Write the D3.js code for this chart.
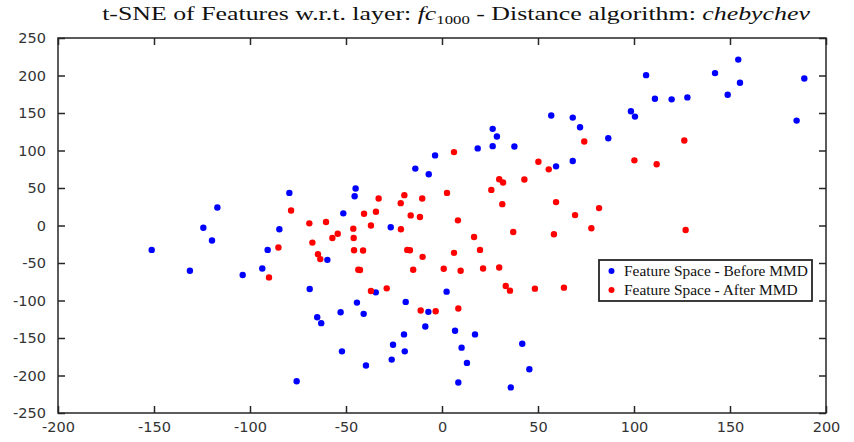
<!DOCTYPE html>
<html>
<head>
<meta charset="utf-8">
<script src="https://cdn.jsdelivr.net/npm/d3@7"></script>
<style>
  html, body { margin: 0; padding: 0; background: #fff; }
  svg { display: block; }
</style>
</head>
<body>
<script>
// ---- data ----
const beforeX = [-151.2,-131.3,-124.3,-119.8,-117,-103.8,-93.6,-90.8,-84.7,-79.5,-75.7,-68.9,-65,-62.9,-59.7,-52.8,-52.1,-51.4,-45,-45.5,-44.3,-40.8,-39.6,-34.5,-26.7,-26.2,-25.5,-19.8,-19.4,-18.9,-13.9,-8.7,-7.1,-6.9,-3.6,2.4,6.8,8.5,10.2,13,17.2,18.6,26.4,26.4,28.6,35.8,37.7,41.8,45.5,56.9,59.4,68.1,68.1,71.9,86.6,98.4,100.5,106.3,110.9,119.6,127.8,142.2,148.8,154.3,155.2,184.7,188.7];
const beforeY = [-32.5,-60.3,-2.9,-20,24,-66,-57.3,-32.5,-5,43.5,-207.6,-84.6,-122.3,-130.2,-45.8,-115.6,-167.8,16.2,49.3,39.1,-102.8,-117.8,-186.7,-89.1,-2.4,-178.8,-159,-145.2,-167.8,-101.9,75.9,-134.6,-115.1,68.3,93.5,-88.2,-140.3,-209.3,-162.9,-183.2,-145.2,102.8,128.9,105.8,118.7,-215.9,105.4,-157.6,-191.6,146.6,78.9,143.9,86,131,116.4,152.3,145.2,200.5,169.1,168.2,170.8,203.2,174.4,221.2,190.3,139.9,196];
const afterX = [-90.1,-85.2,-78.6,-69.1,-67.5,-64.6,-63.4,-60.4,-57.1,-54.3,-46.2,-46,-45.8,-43.6,-42.7,-41.1,-40.6,-37,-37,-34.4,-33,-28.8,-21.5,-21.4,-19.6,-18.1,-16.7,-16.3,-15,-11.5,-11.1,-10.3,-10.1,-3.3,0.9,2.6,6.25,6.25,8.3,8.5,9.7,16.7,19.8,21.4,25.7,29.8,29.8,31.4,31.8,33.2,35.4,37.1,42.9,48.4,50.2,55.6,58.3,59.4,63.5,69.3,74.1,77.8,81.8,100.2,111.8,126.2,126.9];
const afterY = [-69.2,-29.4,20.1,2.9,-22.8,-38.2,-44.8,4.6,-16.6,-10.9,-4.2,-16.6,-32.9,-59,-59.4,-33.4,15.7,0,-87.3,18.3,36.1,-83.8,29.8,-5,40.5,-32.5,-32.9,13.5,-59,11.3,-113.4,36.1,-41.8,-114.3,-57.7,43.5,97.9,-36.5,6.9,-110.7,-60.3,-15.3,-32.5,-57.3,47.5,61.7,-56,28.5,57.3,-80.6,-86.9,-8.6,61.3,-84.2,85.1,74.9,-11.7,31.2,-82.9,13.9,112.1,-3.7,23.2,86.9,81.6,113.4,-6];
const xTicks = [-200,-150,-100,-50,0,50,100,150,200];
const yTicks = [-250,-200,-150,-100,-50,0,50,100,150,200,250];
const seriesNames = ["Feature Space - Before MMD", "Feature Space - After MMD"];
const seriesColors = ["#0000ff", "#ff0000"];

// ---- layout ----
const W = 854, H = 442;
const m = {left: 58, right: 28, top: 38, bottom: 29};
const iw = W - m.left - m.right, ih = H - m.top - m.bottom;

const svg = d3.select("body").append("svg").attr("width", W).attr("height", H);
const x = d3.scaleLinear().domain([-200, 200]).range([m.left, m.left + iw]);
const y = d3.scaleLinear().domain([-250, 250]).range([m.top + ih, m.top]);

const axisColor = "#262626";
const tickFont = "'DejaVu Sans', sans-serif";

function styleAxis(g, showLabels) {
  g.select(".domain").remove();
  g.selectAll(".tick line").attr("stroke", axisColor).attr("stroke-width", 1.5);
  g.selectAll(".tick text")
    .attr("font-family", tickFont).attr("font-size", 14.5).attr("fill", "#333")
    .style("display", showLabels ? null : "none");
}
const TL = 7;
const fmt = d => d < 0 ? "-" + Math.abs(d) : String(d);
// bottom
svg.append("g").attr("transform", `translate(0,${m.top + ih})`)
  .call(d3.axisBottom(x).tickValues(xTicks).tickSizeInner(-TL).tickSizeOuter(0).tickPadding(TL + 2).tickFormat(fmt))
  .call(g => styleAxis(g, true));
// top
svg.append("g").attr("transform", `translate(0,${m.top})`)
  .call(d3.axisTop(x).tickValues(xTicks).tickSizeInner(-TL).tickSizeOuter(0))
  .call(g => styleAxis(g, false));
// left
svg.append("g").attr("transform", `translate(${m.left},0)`)
  .call(d3.axisLeft(y).tickValues(yTicks).tickSizeInner(-TL).tickSizeOuter(0).tickPadding(TL + 5).tickFormat(fmt))
  .call(g => styleAxis(g, true));
// right
svg.append("g").attr("transform", `translate(${m.left + iw},0)`)
  .call(d3.axisRight(y).tickValues(yTicks).tickSizeInner(-TL).tickSizeOuter(0))
  .call(g => styleAxis(g, false));

// frame
svg.append("rect").attr("x", m.left).attr("y", m.top).attr("width", iw).attr("height", ih)
  .attr("fill", "none").attr("stroke", axisColor).attr("stroke-width", 1.5);

// points
const before = beforeX.map((v, i) => ({x: v, y: beforeY[i]}));
const after = afterX.map((v, i) => ({x: v, y: afterY[i]}));
[before, after].forEach((data, k) => {
  svg.append("g").selectAll("circle").data(data).enter().append("circle")
    .attr("cx", d => x(d.x)).attr("cy", d => y(d.y)).attr("r", 3.2)
    .attr("fill", seriesColors[k]);
});

// title (horizontally stretched to the reference span, like the wide TeX font)
const serif = "'Liberation Serif', 'DejaVu Serif', serif";
const titleCx = 456;
const titleG = svg.append("g");
const title = titleG.append("text").attr("x", 0).attr("y", 0).attr("text-anchor", "middle")
  .attr("font-family", serif).attr("font-size", 18.5).attr("fill", "#111");
title.append("tspan").text("t-SNE of Features w.r.t. layer: ");
title.append("tspan").attr("font-style", "italic").text("fc");
title.append("tspan").attr("font-size", 12).attr("dy", 4).text("1000");
title.append("tspan").attr("dy", -4).text(" - Distance algorithm: ");
title.append("tspan").attr("font-style", "italic").text("chebychev");
const tw = title.node().getComputedTextLength();
const sx = tw > 0 ? 708 / tw : 1;
titleG.attr("transform", `translate(${titleCx},20) scale(${sx},1)`);

// legend
const lg = svg.append("g");
lg.append("rect").attr("x", 599).attr("y", 260).attr("width", 213).attr("height", 41)
  .attr("fill", "#fff").attr("stroke", axisColor).attr("stroke-width", 1.8);
seriesNames.forEach((name, i) => {
  const cy = 271 + i * 19;
  lg.append("circle").attr("cx", 611.5).attr("cy", cy).attr("r", 3).attr("fill", seriesColors[i]);
  const t = lg.append("text").attr("x", 0).attr("y", 0).attr("font-family", serif)
    .attr("font-size", 15).attr("fill", "#111").text(name);
  const ls = i === 0 ? Math.min(1.15, 184 / t.node().getComputedTextLength()) : null;
  t.attr("data-i", i);
});
// common horizontal stretch for legend labels, based on the first (longest) label
const lt = lg.selectAll("text").nodes();
const lsx = 184 / lt[0].getComputedTextLength();
lt.forEach((n, i) => d3.select(n).attr("transform", `translate(624,${271 + i * 19 + 5}) scale(${lsx},1)`));
</script>
</body>
</html>
